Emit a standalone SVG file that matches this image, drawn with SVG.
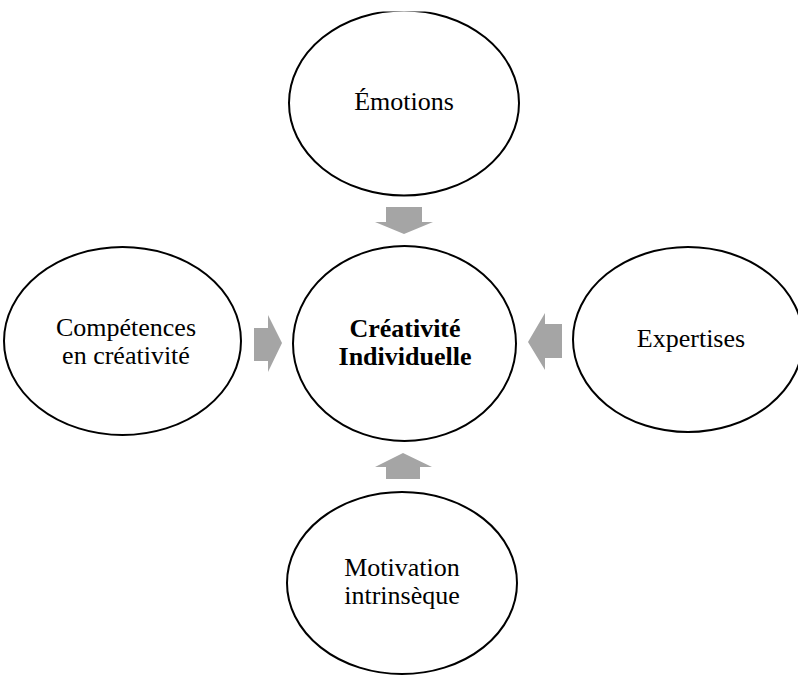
<svg xmlns="http://www.w3.org/2000/svg" width="798" height="675" viewBox="0 0 798 675">
<style>
.circ{fill:#fff;stroke:#000;stroke-width:2}
.lbl{font-family:"Liberation Serif","Times New Roman",serif;font-size:26px;fill:#000;text-anchor:middle}
.bold{font-weight:bold}
.arrow{fill:#a5a5a5;stroke:none}
</style>
<defs>
<clipPath id="topclip"><rect x="0" y="11.5" width="798" height="664"/></clipPath>
</defs>
<rect width="798" height="675" fill="#fff"/>
<g id="connectors">
<polygon class="arrow" points="386,207 422,207 422,222 433,222 404,234 375,222 386,222"/>
<polygon class="arrow" points="254,328 268,328 268,315 282,343 268,372 268,361 254,361"/>
<polygon class="arrow" points="562,324 545,324 545,313 528,342 545,370 545,358 562,358"/>
<polygon class="arrow" points="386,479 420,479 420,467 432,467 403,453 375,467 386,467"/>
</g>
<g id="node-emotions" clip-path="url(#topclip)">
<ellipse class="circ" cx="404" cy="103" rx="115" ry="92.5"/>
<text class="lbl" x="404" y="110">Émotions</text>
</g>
<g id="node-creativite">
<ellipse class="circ" cx="404.5" cy="343.5" rx="111.5" ry="97.5"/>
<text class="lbl bold" x="405" y="337">Créativité</text>
<text class="lbl bold" x="405" y="365">Individuelle</text>
</g>
<g id="node-competences">
<ellipse class="circ" cx="122.5" cy="341" rx="118.5" ry="94"/>
<text class="lbl" x="126" y="336">Compétences</text>
<text class="lbl" x="126" y="364">en créativité</text>
</g>
<g id="node-expertises">
<ellipse class="circ" cx="688" cy="339.5" rx="115" ry="92.5"/>
<text class="lbl" x="691" y="347">Expertises</text>
</g>
<g id="node-motivation">
<ellipse class="circ" cx="402" cy="583" rx="115" ry="91"/>
<text class="lbl" x="402" y="576">Motivation</text>
<text class="lbl" x="402" y="604">intrinsèque</text>
</g>
</svg>
